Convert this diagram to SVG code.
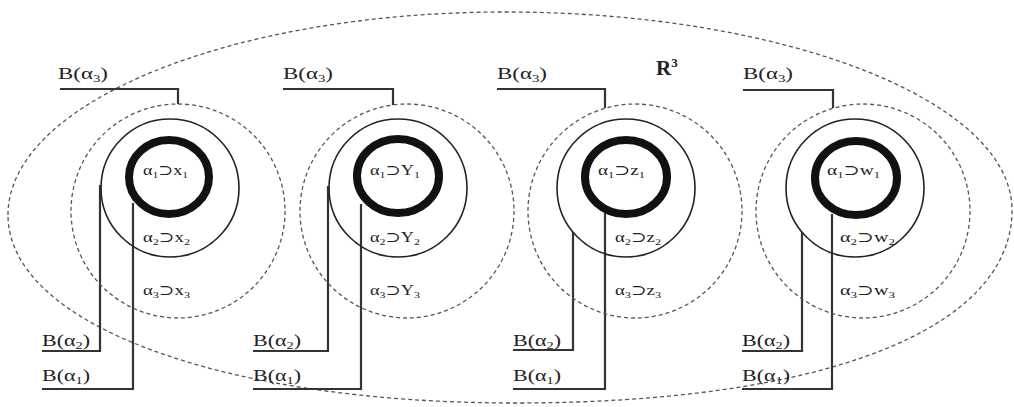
<svg xmlns="http://www.w3.org/2000/svg" width="1014" height="407" viewBox="0 0 1014 407">
<style>
.bg{fill:#fff}
.outer{fill:none;stroke:#555;stroke-width:1.3;stroke-dasharray:4 3}
.dash{fill:none;stroke:#555;stroke-width:1.3;stroke-dasharray:4 3}
.thin{fill:none;stroke:#222;stroke-width:1.6}
.thick{fill:none;stroke:#111;stroke-width:8}
.conn{fill:none;stroke:#333;stroke-width:2.2}
text{font-family:'Liberation Serif','DejaVu Serif',serif;fill:#222}
.b{font-size:17px}
.in{font-size:14px}
.s{font-size:0.65em}
.r{font-size:21px;font-weight:bold}
</style>
<rect class="bg" width="1014" height="407"/>
<path id="R3-region" class="outer" d="M8,215 C8,103 230,12 505,12 C785,12 1012,101 1012,210 C1012,330 823,403 515,403 C221,403 8,324 8,215 Z"/>
<text class="r" x="656" y="75">R<tspan font-size="13" dy="-8">3</tspan></text>

<g id="connectors">
  <!-- group 1 -->
  <polyline class="conn" points="60,89 178,89 178,104"/>
  <polyline class="conn" points="100,185 100,351 42,351"/>
  <polyline class="conn" points="133,203 133,389 42,389"/>
  <!-- group 2 -->
  <polyline class="conn" points="283,89 393,89 393,105"/>
  <polyline class="conn" points="328,186 328,351 253,351"/>
  <polyline class="conn" points="361,204 361,389 253,389"/>
  <!-- group 3 -->
  <polyline class="conn" points="497,89 605,89 605,108"/>
  <polyline class="conn" points="573,232 573,350 513,350"/>
  <polyline class="conn" points="605,213 605,389 513,389"/>
  <!-- group 4 -->
  <polyline class="conn" points="743,90 833,90 833,108"/>
  <polyline class="conn" points="802,232 802,351 742,351"/>
  <polyline class="conn" points="832,214 832,389 742,389"/>
</g>

<g id="node-x">
  <circle class="dash" cx="178" cy="211" r="107"/>
  <circle class="thin" cx="170" cy="188" r="69"/>
  <ellipse class="thick" cx="169" cy="177" rx="40" ry="37"/>
  <text class="in" x="143" y="175" textLength="45" lengthAdjust="spacingAndGlyphs">α<tspan class="s" dy="3">1</tspan><tspan dy="-3">⊃x</tspan><tspan class="s" dy="3">1</tspan></text>
  <text class="in" x="143" y="242" textLength="47" lengthAdjust="spacingAndGlyphs">α<tspan class="s" dy="3">2</tspan><tspan dy="-3">⊃x</tspan><tspan class="s" dy="3">2</tspan></text>
  <text class="in" x="143" y="295" textLength="47" lengthAdjust="spacingAndGlyphs">α<tspan class="s" dy="3">3</tspan><tspan dy="-3">⊃x</tspan><tspan class="s" dy="3">3</tspan></text>
  <text class="b" x="58" y="79" textLength="50" lengthAdjust="spacingAndGlyphs">B(α<tspan class="s" dy="3">3</tspan><tspan dy="-3">)</tspan></text>
  <text class="b" x="42" y="346" textLength="48" lengthAdjust="spacingAndGlyphs">B(α<tspan class="s" dy="3">2</tspan><tspan dy="-3">)</tspan></text>
  <text class="b" x="42" y="381" textLength="48" lengthAdjust="spacingAndGlyphs">B(α<tspan class="s" dy="3">1</tspan><tspan dy="-3">)</tspan></text>
</g>

<g id="node-y">
  <circle class="dash" cx="407" cy="211" r="107"/>
  <circle class="thin" cx="398" cy="188" r="69"/>
  <ellipse class="thick" cx="398" cy="176" rx="41" ry="37"/>
  <text class="in" x="370" y="175" textLength="50" lengthAdjust="spacingAndGlyphs">α<tspan class="s" dy="3">1</tspan><tspan dy="-3">⊃Y</tspan><tspan class="s" dy="3">1</tspan></text>
  <text class="in" x="370" y="242" textLength="50" lengthAdjust="spacingAndGlyphs">α<tspan class="s" dy="3">2</tspan><tspan dy="-3">⊃Y</tspan><tspan class="s" dy="3">2</tspan></text>
  <text class="in" x="370" y="295" textLength="50" lengthAdjust="spacingAndGlyphs">α<tspan class="s" dy="3">3</tspan><tspan dy="-3">⊃Y</tspan><tspan class="s" dy="3">3</tspan></text>
  <text class="b" x="283" y="79" textLength="50" lengthAdjust="spacingAndGlyphs">B(α<tspan class="s" dy="3">3</tspan><tspan dy="-3">)</tspan></text>
  <text class="b" x="253" y="346" textLength="48" lengthAdjust="spacingAndGlyphs">B(α<tspan class="s" dy="3">2</tspan><tspan dy="-3">)</tspan></text>
  <text class="b" x="253" y="381" textLength="48" lengthAdjust="spacingAndGlyphs">B(α<tspan class="s" dy="3">1</tspan><tspan dy="-3">)</tspan></text>
</g>

<g id="node-z">
  <circle class="dash" cx="635" cy="211" r="107"/>
  <circle class="thin" cx="626" cy="188" r="69"/>
  <ellipse class="thick" cx="626" cy="177" rx="41" ry="37"/>
  <text class="in" x="598" y="175" textLength="47" lengthAdjust="spacingAndGlyphs">α<tspan class="s" dy="3">1</tspan><tspan dy="-3">⊃z</tspan><tspan class="s" dy="3">1</tspan></text>
  <text class="in" x="615" y="242" textLength="46" lengthAdjust="spacingAndGlyphs">α<tspan class="s" dy="3">2</tspan><tspan dy="-3">⊃z</tspan><tspan class="s" dy="3">2</tspan></text>
  <text class="in" x="615" y="295" textLength="46" lengthAdjust="spacingAndGlyphs">α<tspan class="s" dy="3">3</tspan><tspan dy="-3">⊃z</tspan><tspan class="s" dy="3">3</tspan></text>
  <text class="b" x="497" y="79" textLength="50" lengthAdjust="spacingAndGlyphs">B(α<tspan class="s" dy="3">3</tspan><tspan dy="-3">)</tspan></text>
  <text class="b" x="513" y="346" textLength="48" lengthAdjust="spacingAndGlyphs">B(α<tspan class="s" dy="3">2</tspan><tspan dy="-3">)</tspan></text>
  <text class="b" x="513" y="381" textLength="48" lengthAdjust="spacingAndGlyphs">B(α<tspan class="s" dy="3">1</tspan><tspan dy="-3">)</tspan></text>
</g>

<g id="node-w">
  <circle class="dash" cx="863" cy="211" r="107"/>
  <circle class="thin" cx="855" cy="188" r="69"/>
  <ellipse class="thick" cx="856" cy="178" rx="41" ry="37"/>
  <text class="in" x="827" y="175" textLength="53" lengthAdjust="spacingAndGlyphs">α<tspan class="s" dy="3">1</tspan><tspan dy="-3">⊃w</tspan><tspan class="s" dy="3">1</tspan></text>
  <text class="in" x="840" y="242" textLength="55" lengthAdjust="spacingAndGlyphs">α<tspan class="s" dy="3">2</tspan><tspan dy="-3">⊃w</tspan><tspan class="s" dy="3">2</tspan></text>
  <text class="in" x="840" y="295" textLength="55" lengthAdjust="spacingAndGlyphs">α<tspan class="s" dy="3">3</tspan><tspan dy="-3">⊃w</tspan><tspan class="s" dy="3">3</tspan></text>
  <text class="b" x="743" y="79" textLength="50" lengthAdjust="spacingAndGlyphs">B(α<tspan class="s" dy="3">3</tspan><tspan dy="-3">)</tspan></text>
  <text class="b" x="742" y="346" textLength="48" lengthAdjust="spacingAndGlyphs">B(α<tspan class="s" dy="3">2</tspan><tspan dy="-3">)</tspan></text>
  <text class="b" x="742" y="381" textLength="48" lengthAdjust="spacingAndGlyphs">B(α<tspan class="s" dy="3">1</tspan><tspan dy="-3">)</tspan></text>
</g>
</svg>
